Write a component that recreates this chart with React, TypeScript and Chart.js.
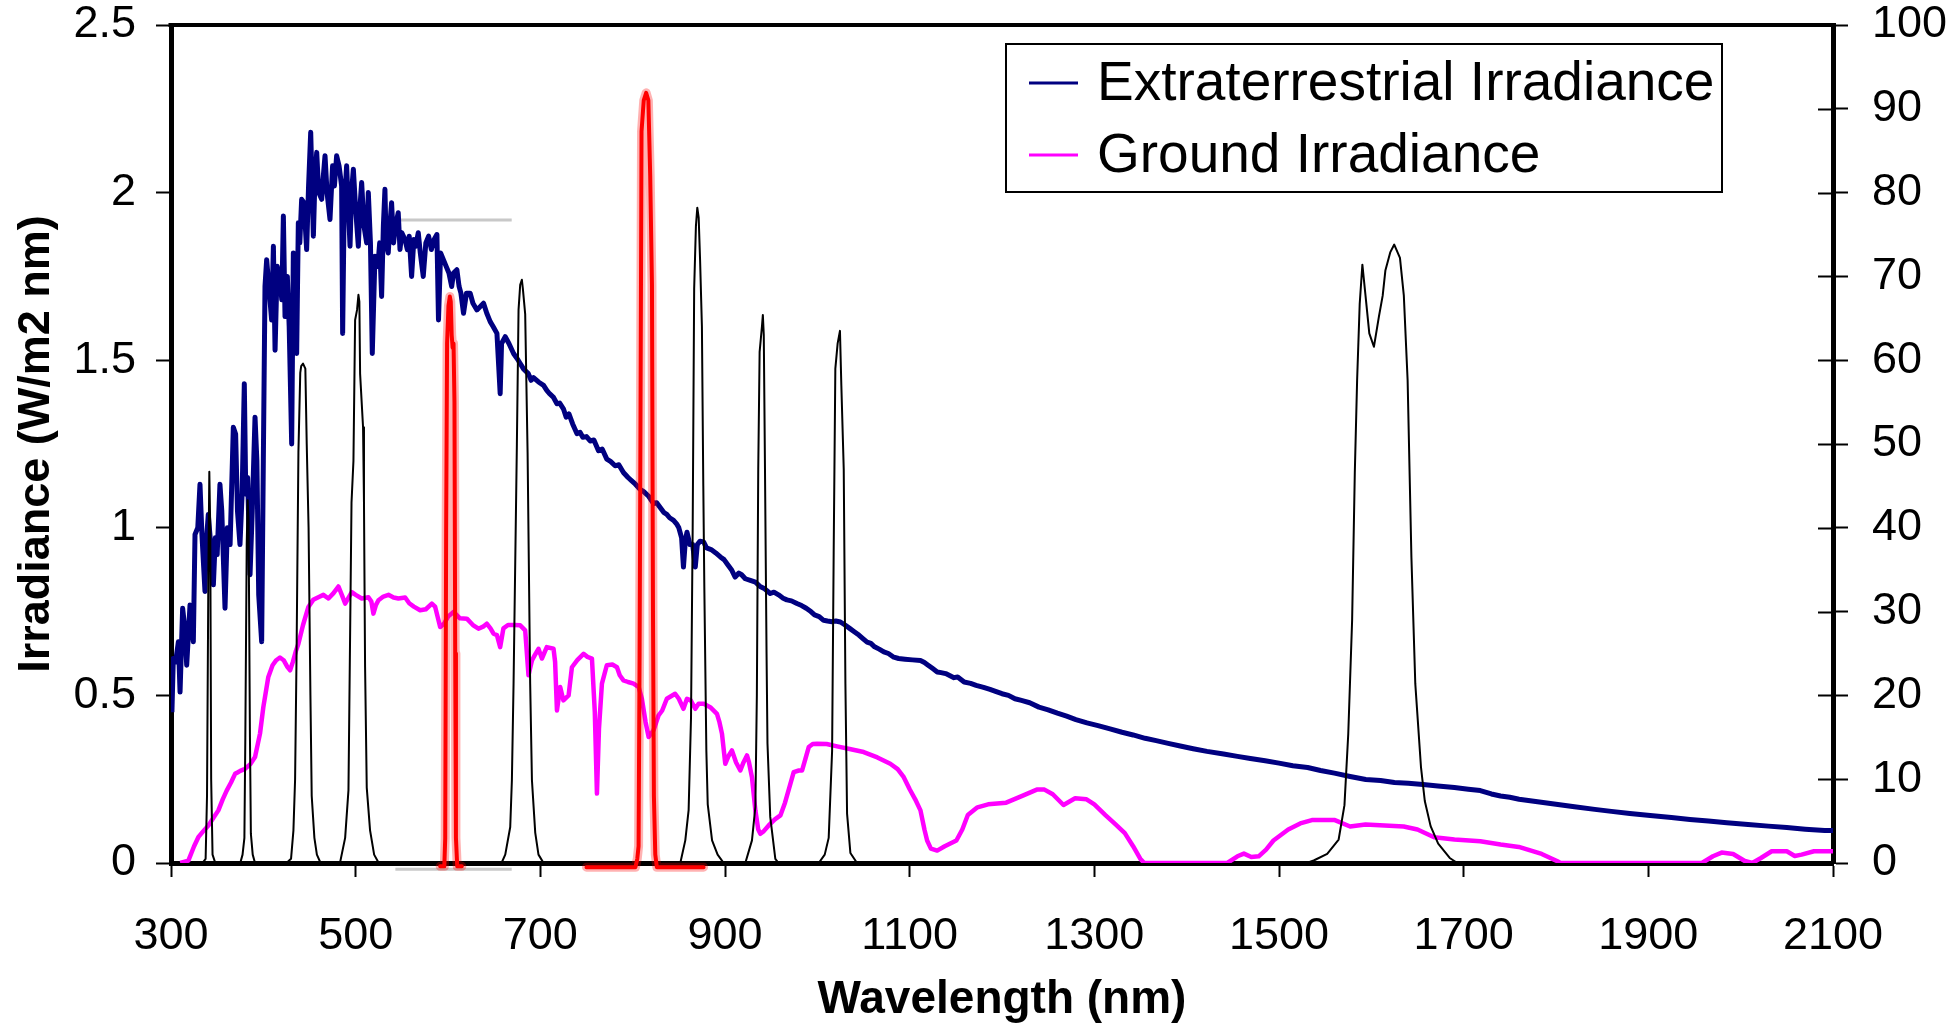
import React, { useEffect, useRef } from 'react';
import { Chart, registerables } from 'chart.js';

Chart.register(...registerables);

// ---------- axis ticks ----------
const xTicks = [300, 500, 700, 900, 1100, 1300, 1500, 1700, 1900, 2100];
const leftTicks = [0, 0.5, 1, 1.5, 2, 2.5];
const rightTicks = [0, 10, 20, 30, 40, 50, 60, 70, 80, 90, 100];
const legendLabels = ['Extraterrestrial Irradiance', 'Ground Irradiance'];

// ---------- series: [wavelength nm, irradiance W/m2 nm] ----------
const extraterrestrial: [number, number][] = [
  [301, 0.45], [302.5, 0.61], [305, 0.6], [308, 0.66], [309.8, 0.51], [312.6, 0.76], [315, 0.7], [317, 0.59],
  [320.6, 0.77], [324.2, 0.66], [326, 0.98], [329, 1.0], [331.4, 1.13], [333.5, 0.98], [336.8, 0.81], [338, 0.95],
  [340.4, 1.04], [343, 0.95], [345.9, 0.83], [348, 0.97], [350, 0.92], [353, 1.13], [355, 1.05], [358.5, 0.76],
  [361, 1.0], [364, 0.95], [367.5, 1.3], [370, 1.28], [372, 1.05], [374.7, 0.95], [377, 1.1], [379.4, 1.43],
  [381, 1.1], [383, 1.15], [385.6, 0.86], [388, 1.05], [391, 1.33], [393, 1.2], [395, 0.8], [398.2, 0.66],
  [400, 1.2], [401.8, 1.72], [403.6, 1.8], [406, 1.72], [409, 1.62], [410.9, 1.84], [412.7, 1.53], [415, 1.78],
  [418, 1.74], [420, 1.68], [421.7, 1.93], [423.5, 1.63], [426, 1.75], [428, 1.6], [430.7, 1.25], [432.5, 1.82],
  [434, 1.68], [436.1, 1.52], [437.9, 1.91], [439.5, 1.85], [441.5, 1.98], [444, 1.97], [446.9, 1.83], [449, 2.02],
  [451.3, 2.18], [453, 2.0], [454.2, 1.87], [456, 2.05], [457.8, 2.12], [460, 2.0], [463.2, 1.98], [465, 2.05],
  [466.8, 2.11], [469, 2.0], [472.2, 1.92], [475, 2.08], [477, 2.02], [479.4, 2.11], [482, 2.08], [484.8, 2.02],
  [485.9, 1.58], [487.5, 1.95], [490.2, 2.08], [493.9, 1.84], [495.5, 2.0], [497.5, 2.07], [500, 1.95], [502.9, 1.84],
  [504.5, 1.95], [506.5, 2.03], [509, 1.9], [511.9, 1.85], [513.7, 2.0], [516, 1.85], [518, 1.52], [520.9, 1.81],
  [524, 1.78], [526, 1.85], [528.1, 1.69], [530, 1.9], [531.7, 2.01], [533, 1.85], [535.3, 1.82], [537, 1.9],
  [538.9, 1.97], [541, 1.85], [543, 1.9], [546.1, 1.94], [548, 1.83], [550, 1.88], [553.4, 1.86], [556, 1.83],
  [558, 1.87], [560.6, 1.75], [563, 1.86], [565, 1.84], [567.8, 1.88], [570, 1.82], [573.2, 1.75], [576, 1.85],
  [579, 1.87], [582, 1.83], [585, 1.86], [588, 1.875], [589.7, 1.62], [592, 1.82], [595, 1.8], [598, 1.78],
  [601, 1.76], [604, 1.72], [606, 1.76], [609.6, 1.77], [612, 1.72], [614, 1.7], [616.8, 1.64], [620, 1.7],
  [624, 1.7], [627, 1.67], [631.3, 1.65], [635, 1.66], [638.5, 1.67], [642, 1.64], [645.7, 1.615], [649, 1.6],
  [653, 1.58], [656.5, 1.4], [658, 1.55], [662, 1.57], [666, 1.55], [671, 1.52], [676, 1.5], [681.8, 1.474],
  [687, 1.46], [690, 1.44], [692.6, 1.448], [698, 1.435], [703.5, 1.425], [707, 1.41], [710, 1.4], [714, 1.39],
  [718, 1.37], [721, 1.372], [725, 1.355], [728, 1.33], [731, 1.34], [735, 1.31], [739.6, 1.281], [743, 1.285],
  [746, 1.27], [750, 1.272], [754, 1.259], [758, 1.262], [763, 1.23], [767, 1.235], [772, 1.205], [776, 1.198],
  [781, 1.185], [785, 1.188], [790, 1.165], [795, 1.15], [799, 1.14], [803, 1.13], [808, 1.115], [812, 1.108],
  [817, 1.095], [822.6, 1.072], [826, 1.075], [830, 1.06], [834, 1.045], [837, 1.04], [840, 1.03], [844.3, 1.022],
  [848, 1.01], [850, 1.0], [853, 0.97], [855, 0.883], [857, 0.96], [858.8, 0.987], [862, 0.95], [865, 0.95],
  [867.8, 0.883], [870, 0.95], [873, 0.96], [876.8, 0.958], [880, 0.94], [885, 0.935], [890, 0.925], [895, 0.913],
  [899, 0.905], [903, 0.89], [907, 0.875], [911, 0.853], [915, 0.865], [918, 0.86], [922, 0.848], [927.4, 0.843],
  [933, 0.838], [938, 0.825], [943, 0.818], [949, 0.804], [953, 0.808], [958, 0.8], [963, 0.79], [967, 0.785],
  [972, 0.782], [977.9, 0.774], [983, 0.768], [988, 0.76], [993, 0.75], [997, 0.74], [1002, 0.735], [1006.8, 0.724],
  [1011, 0.722], [1016, 0.72], [1020, 0.722], [1025, 0.719], [1030, 0.71], [1035, 0.7], [1040, 0.69], [1045, 0.68],
  [1050, 0.668], [1053.9, 0.659], [1058, 0.655], [1062, 0.645], [1067, 0.638], [1072, 0.63], [1077, 0.625], [1082.8, 0.614],
  [1088, 0.61], [1095, 0.608], [1103, 0.606], [1111.7, 0.604], [1116, 0.598], [1120, 0.59], [1125, 0.58], [1129.8, 0.57],
  [1134, 0.568], [1139, 0.565], [1148, 0.553], [1152, 0.555], [1159, 0.54], [1166, 0.536], [1172, 0.53], [1180, 0.524],
  [1187, 0.518], [1193, 0.512], [1200, 0.505], [1207, 0.5], [1214, 0.49], [1221, 0.485], [1230, 0.478], [1240, 0.465],
  [1250, 0.457], [1260, 0.447], [1270, 0.438], [1280, 0.428], [1292, 0.418], [1304, 0.41], [1317, 0.4], [1330, 0.39],
  [1342, 0.382], [1355, 0.372], [1367, 0.365], [1380, 0.357], [1393, 0.349], [1407, 0.341], [1422, 0.333], [1440, 0.325],
  [1455, 0.318], [1469, 0.312], [1485, 0.305], [1500, 0.298], [1515, 0.29], [1531, 0.285], [1545, 0.276], [1560, 0.268],
  [1577, 0.258], [1594, 0.249], [1610, 0.246], [1625, 0.24], [1640, 0.238], [1656, 0.234], [1672, 0.23], [1690, 0.225],
  [1705, 0.22], [1718, 0.216], [1730, 0.206], [1740, 0.2], [1750, 0.196], [1760, 0.19], [1780, 0.183], [1800, 0.175],
  [1820, 0.168], [1842, 0.16], [1860, 0.154], [1880, 0.148], [1902, 0.142], [1925, 0.136], [1945, 0.13], [1965, 0.125],
  [1985, 0.12], [2008, 0.115], [2030, 0.11], [2050, 0.106], [2070, 0.101], [2091, 0.097], [2100, 0.097],
];

const ground: [number, number][] = [
  [310, 0], [318.8, 0.007], [325, 0.05], [329.6, 0.077], [335, 0.095], [340.5, 0.112], [346, 0.135], [351.3, 0.157],
  [356, 0.19], [360.3, 0.216], [365, 0.24], [369.4, 0.266], [372, 0.27], [375, 0.275], [380.2, 0.281], [386, 0.295],
  [391, 0.316], [396.4, 0.386], [400, 0.465], [405.4, 0.555], [410, 0.59], [414, 0.605], [418, 0.613], [422, 0.605],
  [426, 0.585], [429, 0.575], [432, 0.6], [435, 0.63], [438, 0.654], [443, 0.71], [448.8, 0.764], [454, 0.785],
  [459.6, 0.793], [465, 0.8], [470.5, 0.789], [476, 0.805], [481.3, 0.825], [485, 0.8], [488.6, 0.774], [492, 0.79],
  [495.8, 0.808], [500, 0.8], [506.6, 0.789], [513.8, 0.793], [517, 0.78], [519.2, 0.744], [522, 0.77], [524.7, 0.784],
  [530, 0.795], [535.5, 0.8], [541, 0.792], [546.3, 0.789], [553.6, 0.792], [558, 0.775], [563, 0.765], [569.8, 0.754],
  [576, 0.757], [582.5, 0.774], [586, 0.765], [591.5, 0.704], [596, 0.715], [600, 0.735], [606, 0.749], [613, 0.73],
  [620.4, 0.729], [627, 0.71], [633, 0.699], [638, 0.705], [642, 0.714], [646, 0.7], [649.3, 0.684], [653, 0.68],
  [656.5, 0.644], [660, 0.7], [665, 0.71], [672, 0.71], [678.2, 0.709], [683.6, 0.694], [687.2, 0.56], [690.9, 0.604],
  [694, 0.62], [698, 0.639], [701.7, 0.61], [704, 0.625], [707, 0.644], [714.3, 0.639], [716, 0.6], [718, 0.455],
  [721.5, 0.525], [725, 0.485], [730.6, 0.5], [734.2, 0.584], [740, 0.605], [746.8, 0.624], [751, 0.615], [755.9, 0.61],
  [759, 0.45], [761.3, 0.207], [763.5, 0.4], [766.7, 0.535], [772, 0.59], [778, 0.592], [783, 0.584], [786, 0.56],
  [790, 0.545], [795, 0.54], [801, 0.535], [806.5, 0.525], [810, 0.49], [814, 0.42], [817.3, 0.376], [822.6, 0.396],
  [828, 0.44], [832, 0.455], [837, 0.49], [846, 0.505], [850, 0.49], [855, 0.46], [858.8, 0.49], [863, 0.485],
  [867.8, 0.46], [871.4, 0.475], [877, 0.475], [884, 0.465], [891.3, 0.445], [894, 0.42], [896.7, 0.386], [900.3, 0.296],
  [904, 0.32], [907.5, 0.336], [912, 0.3], [916.6, 0.276], [920, 0.3], [923.8, 0.321], [926, 0.3], [929.2, 0.256],
  [932.9, 0.157], [936, 0.1], [938.3, 0.087], [942, 0.095], [947.3, 0.112], [954, 0.13], [960, 0.142], [965, 0.18],
  [970.8, 0.236], [974.4, 0.271], [980, 0.276], [983.5, 0.276], [987, 0.31], [990.7, 0.346], [995, 0.355], [999.7, 0.356],
  [1010, 0.355], [1021.4, 0.348], [1035, 0.34], [1050.2, 0.331], [1065, 0.315], [1079, 0.296], [1087, 0.28], [1093.6, 0.256],
  [1100, 0.22], [1106, 0.19], [1111.7, 0.157], [1116, 0.1], [1118.9, 0.067], [1123, 0.043], [1129.8, 0.037], [1138, 0.05],
  [1150.6, 0.067], [1157, 0.1], [1163, 0.143], [1173.4, 0.166], [1185, 0.175], [1204.5, 0.18], [1220, 0.198], [1237.7, 0.219],
  [1246, 0.219], [1255, 0.205], [1266.6, 0.173], [1279.2, 0.193], [1291.6, 0.19], [1300, 0.175], [1312, 0.143], [1323, 0.115],
  [1333, 0.089], [1342, 0.05], [1349.7, 0.013], [1354, 0], [1444, 0], [1455, 0.02], [1462, 0.028], [1470, 0.018],
  [1478, 0.02], [1486, 0.04], [1494, 0.067], [1510, 0.1], [1523, 0.118], [1535.6, 0.128], [1560.5, 0.128], [1577, 0.109],
  [1593.7, 0.115], [1635, 0.109], [1650, 0.1], [1668, 0.077], [1690, 0.07], [1718, 0.065], [1740, 0.055], [1759.7, 0.048],
  [1784.5, 0.027], [1801, 0.006], [1805, 0], [1958, 0], [1970, 0.02], [1979.4, 0.031], [1991.8, 0.027], [2004.5, 0.006],
  [2012.6, 0], [2022, 0.015], [2033.6, 0.035], [2050, 0.035], [2058.6, 0.021], [2066, 0.025], [2079.4, 0.035], [2100, 0.035],
];

// ---------- filter transmissions: [wavelength nm, %] (right axis) ----------
const filter340: [number, number][] = [[334, 0], [337.5, 0.5], [339, 8], [340.5, 35], [341.5, 46.7], [342.5, 40], [343.5, 10], [345, 1], [348, 0]];
const filter383: [number, number][] = [[375, 0], [377.5, 1], [379.5, 3], [380.5, 15], [382, 38], [383, 43.3], [384, 41], [385.5, 15], [386.5, 3.5], [388.5, 1], [391, 0]];
const filter442: [number, number][] = [[425, 0], [430, 0.5], [432.6, 3.9], [434.4, 10], [436, 25], [438, 49], [440, 58.5], [441, 59.3], [443, 59.6], [445.5, 59], [447, 50], [449, 40], [451, 20], [452.4, 8], [455.3, 3], [458, 1], [462, 0]];
const filter503: [number, number][] = [[483, 0], [488.6, 3], [492.2, 8.7], [495.5, 43], [497.6, 48], [499.4, 64.8], [501.5, 66], [503, 67.8], [504, 67], [504.8, 58.4], [508, 52], [509, 43], [510.2, 23.4], [512, 9], [515.6, 3.9], [520, 1], [525, 0]];
const filter680: [number, number][] = [[658, 0], [662, 1], [667.4, 4.3], [669.2, 9.9], [671, 21.4], [674.6, 50], [676.4, 66], [678.2, 69], [680, 69.6], [681.1, 68.5], [683.6, 65.5], [686.2, 49], [689, 21.4], [690.9, 9.9], [694.5, 3.6], [698, 1], [703.5, 0]];
const filter870: [number, number][] = [[851.6, 0], [857, 2.7], [860.6, 6.3], [863.2, 17.4], [865, 40], [866.6, 68.5], [868.5, 76], [870, 78.2], [871.5, 77], [873, 72], [875, 64], [876.5, 45], [877.6, 33], [879.8, 13.4], [881.3, 7], [886, 2.7], [892, 1], [898.6, 0]];
const filter940: [number, number][] = [[922, 0], [929.2, 2.7], [932.9, 6.7], [934.5, 20], [936, 47], [937.5, 61], [940, 64], [941, 65.4], [942, 63], [943.2, 48.3], [945, 25], [946, 14.3], [949, 5.5], [954.5, 0.5], [958, 0]];
const filter1025: [number, number][] = [[1001.5, 0], [1008, 1], [1012.3, 3], [1016, 13.4], [1017.7, 37], [1019.5, 59], [1022, 62], [1024.5, 63.5], [1026, 57], [1028.6, 47], [1030.4, 21.4], [1032.2, 5.9], [1035.8, 1.2], [1043, 0]];
const filter1610: [number, number][] = [
  [1530, 0], [1537.6, 0.3], [1552.2, 1.1], [1564.6, 2.8], [1570.9, 6.9], [1575, 15.4], [1579.2, 29], [1582.1, 46.6],
  [1584.6, 57.6], [1587.4, 66.7], [1590.3, 71.4], [1593.7, 67.7], [1597.8, 63.2], [1602.8, 61.6], [1608.2, 65.2], [1612.3, 67.7],
  [1615.2, 70.7], [1620.6, 72.9], [1624.8, 73.8], [1631, 72.2], [1635.2, 67.7], [1639.3, 57.6], [1643.4, 36.5], [1647.6, 21.4],
  [1653.8, 11.4], [1657.9, 7.4], [1664.2, 4.4], [1672.4, 2.3], [1684.9, 0.6], [1693.2, 0],
];
const blackFilters = [filter340, filter383, filter442, filter503, filter680, filter870, filter940, filter1025, filter1610];

const red600: [number, number][] = [[591.5, -0.4], [596, -0.4], [597, 3], [598, 40], [599, 62], [600.5, 66.5], [602, 67.6], [603, 67], [604, 63], [605, 61.5], [606, 62], [607, 55], [607.8, 25], [608.6, 3], [610, -0.4], [615, -0.4]];
const red815: [number, number][] = [[750, -0.5], [803, -0.5], [805, 0.5], [806.4, 2], [807.5, 25], [808.4, 50.8], [809.6, 87.3], [812, 91], [814.6, 91.9], [817, 91], [819, 82], [820.9, 69], [822, 30], [823, 8], [824.5, 1], [826.2, -0.5], [876.8, -0.5]];
const redFilters = [red600, red815];

const grayTop: [number, number][] = [[543, 1.918], [669, 1.918]];
const grayBottom: [number, number][] = [[543, -0.0185], [669, -0.0185]];

const toPoints = (arr: [number, number][]) => arr.map(([x, y]) => ({ x, y }));

const FONT = 'Liberation Sans';
const NAVY = '#000080';
const MAGENTA = '#ff00ff';

const framePlugin = {
  id: 'frame',
  afterDatasetsDraw(chart: any) {
    const { ctx, chartArea } = chart;
    const y2 = chart.scales.y2;
    ctx.save();
    ctx.strokeStyle = '#000';
    ctx.lineWidth = 4;
    ctx.beginPath();
    ctx.moveTo(chartArea.left - 2.5, chartArea.top);
    ctx.lineTo(chartArea.right + 2.5, chartArea.top);
    ctx.stroke();
    ctx.lineWidth = 2;
    rightTicks.forEach((v) => {
      const py = Math.round(y2.getPixelForValue(v)) + 0.5;
      ctx.beginPath();
      ctx.moveTo(chartArea.right - 15, py);
      ctx.lineTo(chartArea.right, py);
      ctx.stroke();
    });
    ctx.restore();
  },
};

const legendPlugin = {
  id: 'boxLegend',
  afterDraw(chart: any) {
    const { ctx, chartArea } = chart;
    const boxL = chartArea.left + 835;
    const boxT = chartArea.top + 19;
    const boxW = 716;
    const boxH = 148;
    ctx.save();
    ctx.fillStyle = '#fff';
    ctx.fillRect(boxL, boxT, boxW, boxH);
    ctx.strokeStyle = '#000';
    ctx.lineWidth = 2;
    ctx.strokeRect(boxL, boxT, boxW, boxH);
    const colors = [NAVY, MAGENTA];
    legendLabels.forEach((label, i) => {
      const cy = boxT + 39 + i * 72;
      ctx.strokeStyle = colors[i];
      ctx.lineWidth = 3;
      ctx.beginPath();
      ctx.moveTo(boxL + 23, cy);
      ctx.lineTo(boxL + 72, cy);
      ctx.stroke();
      ctx.fillStyle = '#000';
      ctx.font = `55px "${FONT}"`;
      ctx.textAlign = 'left';
      ctx.textBaseline = 'middle';
      ctx.fillText(label, boxL + 91, cy + 2);
    });
    ctx.restore();
  },
};

export default function App() {
  const ref = useRef<HTMLCanvasElement>(null);

  useEffect(() => {
    const canvas = ref.current;
    if (!canvas) return;

    const datasets: any[] = [];
    redFilters.forEach((r) => {
      datasets.push({
        data: toPoints(r), yAxisID: 'y2', borderColor: '#ff0000', borderWidth: 4,
        borderJoinStyle: 'round', borderCapStyle: 'round', clip: false, order: 0,
      });
      datasets.push({
        data: toPoints(r), yAxisID: 'y2', borderColor: 'rgba(255,0,0,0.3)', borderWidth: 9,
        borderJoinStyle: 'round', borderCapStyle: 'round', clip: false, order: 1,
      });
    });
    blackFilters.forEach((f) => {
      datasets.push({ data: toPoints(f), yAxisID: 'y2', borderColor: '#000', borderWidth: 2, order: 2 });
    });
    datasets.push({ label: legendLabels[1], data: toPoints(ground), yAxisID: 'y', borderColor: MAGENTA, borderWidth: 4.5, order: 3 });
    datasets.push({ label: legendLabels[0], data: toPoints(extraterrestrial), yAxisID: 'y', borderColor: NAVY, borderWidth: 5, order: 4 });
    datasets.push({ data: toPoints(grayTop), yAxisID: 'y', borderColor: '#c8c8c8', borderWidth: 3, clip: false, order: 5 });
    datasets.push({ data: toPoints(grayBottom), yAxisID: 'y', borderColor: '#c8c8c8', borderWidth: 3, clip: false, order: 6 });

    const tickFont = { family: FONT, size: 45 };
    const xTitleFont = { family: FONT, size: 46, weight: 'bold' as const };
    const yTitleFont = { family: FONT, size: 45, weight: 'bold' as const };

    const chart = new Chart(canvas, {
      type: 'line',
      data: { datasets },
      options: {
        responsive: false,
        animation: false,
        devicePixelRatio: 1,
        layout: { padding: { top: 0, left: 0, right: 0, bottom: 0 } },
        elements: { point: { radius: 0 }, line: { tension: 0, borderJoinStyle: 'round' } },
        plugins: { legend: { display: false }, tooltip: { enabled: false }, title: { display: false } },
        scales: {
          x: {
            type: 'linear', min: 300, max: 2100,
            afterBuildTicks: (s: any) => { s.ticks = xTicks.map((value) => ({ value })); },
            afterFit: (s: any) => { s.height = 167; s.paddingLeft = 0; s.paddingRight = 0; },
            ticks: { font: tickFont, color: '#000', padding: 33, maxRotation: 0, autoSkip: false, callback: (v: any) => String(v) },
            grid: { display: true, drawOnChartArea: false, drawTicks: true, tickLength: 14, tickWidth: 2, tickColor: '#000', color: '#000' },
            border: { display: true, width: 5, color: '#000' },
            title: { display: true, text: 'Wavelength (nm)', font: xTitleFont, color: '#000', padding: { top: 0, bottom: 2 } },
          },
          y: {
            type: 'linear', position: 'left', min: 0, max: 2.5,
            afterBuildTicks: (s: any) => { s.ticks = leftTicks.map((value) => ({ value })); },
            afterFit: (s: any) => { s.width = 171; s.paddingTop = 25; s.paddingBottom = 0; },
            ticks: { font: tickFont, color: '#000', padding: 20, autoSkip: false, callback: (v: any) => String(v) },
            grid: { display: true, drawOnChartArea: false, drawTicks: true, tickLength: 15, tickWidth: 2, tickColor: '#000', color: '#000' },
            border: { display: true, width: 5, color: '#000' },
            title: { display: true, text: 'Irradiance (W/m2 nm)', font: yTitleFont, color: '#000', padding: { top: 10, bottom: 0 } },
          },
          y2: {
            type: 'linear', position: 'right', min: 0, max: 100,
            afterBuildTicks: (s: any) => { s.ticks = rightTicks.map((value) => ({ value })); },
            afterFit: (s: any) => { s.width = 126; s.paddingTop = 25; s.paddingBottom = 0; },
            ticks: { font: tickFont, color: '#000', padding: 24, autoSkip: false, callback: (v: any) => String(v) },
            grid: { display: true, drawOnChartArea: false, drawTicks: true, tickLength: 15, tickWidth: 2, tickColor: '#000', color: '#000' },
            border: { display: true, width: 5, color: '#000' },
          },
        },
      },
      plugins: [framePlugin, legendPlugin],
    });

    return () => chart.destroy();
  }, []);

  return (
    <div style={{ position: 'fixed', left: 0, top: 0, width: 1959, height: 1030, background: '#fff', overflow: 'hidden' }}>
      <canvas ref={ref} width={1959} height={1030} style={{ display: 'block' }} />
    </div>
  );
}
